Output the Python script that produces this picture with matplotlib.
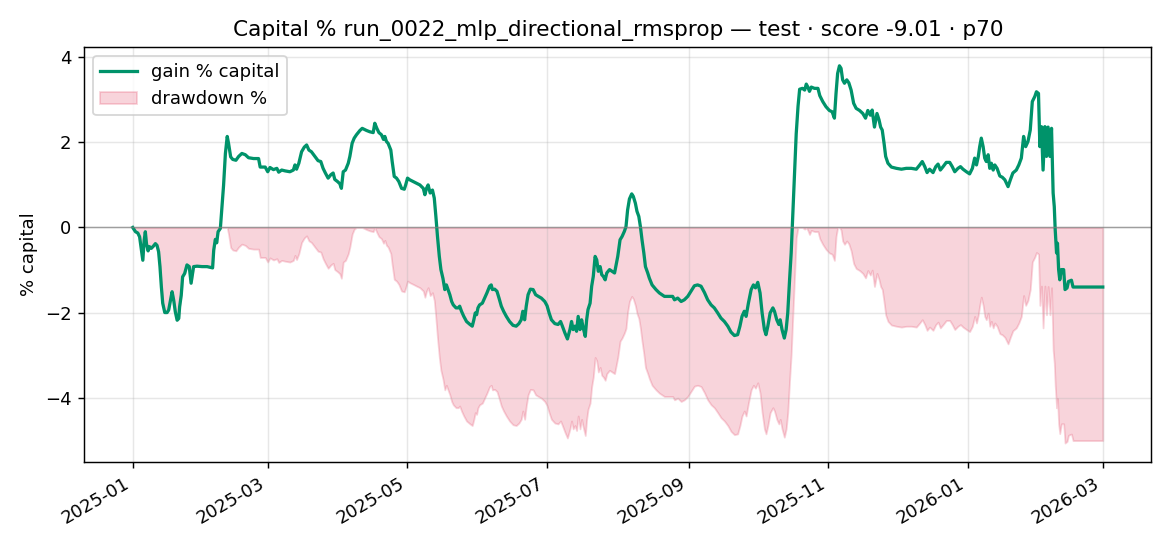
import numpy as np
import pandas as pd
import matplotlib
matplotlib.use('Agg')
import matplotlib.pyplot as plt
import matplotlib.dates as mdates

# days since 2025-01-01 and gain in % of capital
day_offset = [
    0, 1.2, 2.2, 3.0, 3.8, 4.4, 5.0, 5.5, 6.0, 6.7, 7.3, 8.1, 9.0, 9.9, 10.6, 11.3, 11.9, 12.5,
    13.1, 14.0, 15.0, 15.7, 16.4, 17.2, 17.9, 18.6, 19.4, 20.1, 20.5, 21.2, 21.8, 22.7, 23.7,
    24.7, 25.5, 26.6, 28.1, 30.3, 32.5, 34.9, 35.4, 36.1, 36.7, 37.3, 38.3, 39.0, 39.7, 40.5,
    41.3, 41.9, 42.8, 43.7, 45.1, 46.3, 47.7, 49.2, 50.6, 52.8, 55.0, 55.7, 57.9, 59.0, 60.0,
    61.5, 63.0, 63.8, 65.1, 66.6, 68.7,
    70.2, 70.9, 71.6, 72.6, 73.8, 75.0, 76.0, 77.0, 78.1, 79.6, 81.0, 82.2, 83.2, 84.2, 85.4,
    86.6, 87.6, 88.3, 89.5, 90.5, 91.2, 92.0, 93.0, 94.2, 94.9, 95.9, 96.8, 97.8, 99.3, 100.3,
    102.2, 103.6, 105.1, 105.8, 106.7, 107.6, 108.7, 109.6, 110.2, 110.9, 111.6, 112.8, 113.4,
    114.3, 115.3, 116.3, 117.5, 118.7, 119.3, 120.1, 121.1, 122.6, 124.0, 125.5, 127.0, 127.7,
    128.4, 129.1, 130.0, 131.0, 131.8, 132.5, 133.2, 134.0, 134.7, 135.6, 136.4, 137.1, 137.8,
    138.6, 139.4, 140.1, 141.3, 142.3, 142.9, 143.7, 144.7, 145.9, 147.4, 148.4, 149.1, 149.7,
    150.3, 150.9, 151.6, 152.8, 153.8, 154.8, 156.0, 156.7, 157.2, 158.2, 159.2, 160.1, 161.1,
    162.1, 163.3, 164.7, 166.2, 167.6, 168.8, 169.8, 170.5, 171.3, 172.0, 172.8, 173.8, 175.0,
    176.1, 177.3, 178.6, 180.1, 181.1, 182.0, 183.0, 184.5, 185.9, 187.0, 187.8, 188.9, 190.0,
    191.1, 191.8, 192.5, 193.3, 194.0, 194.7, 195.5, 196.2, 196.9, 197.8, 198.4, 199.0, 199.9,
    200.6, 201.3, 202.1, 202.8, 203.5, 204.3, 205.0, 205.7, 206.5, 207.2, 208.4, 210.6, 212.0,
    213.0, 213.9, 214.9, 215.6, 216.3, 217.1, 218.1, 218.8, 219.7, 220.4, 221.2, 221.9, 222.6,
    223.4, 224.1, 225.1, 225.8, 227.0, 228.7, 230.2, 232.4, 234.6, 236.0, 236.8, 238.2, 239.7,
    241.1, 242.6, 244.0, 245.5, 246.9, 248.4, 249.9, 251.3, 252.8, 254.2, 255.7, 257.1, 258.6,
    260.1, 261.5, 263.0, 264.4, 265.4, 266.3, 267.3, 268.1, 269.1, 270.3, 271.3, 272.2, 273.2,
    274.2, 275.1, 276.1, 276.8, 277.6, 278.6, 279.8, 280.5, 281.5, 282.4, 283.0, 283.8, 284.8,
    285.6, 286.3, 287.1, 287.8, 288.5, 289.3, 290.0, 290.8, 291.5, 292.7, 293.7, 294.4, 295.1,
    295.8, 296.6, 298.0, 299.5, 300.3, 301.6, 303.0, 304.5, 305.7, 306.7, 307.4, 308.1, 308.9,
    309.6, 310.3, 311.1, 312.1, 313.0, 314.0, 315.1, 316.2, 317.7, 319.1, 320.3, 321.3, 322.4,
    323.2, 324.2, 325.3, 326.2, 326.9, 327.6, 328.4, 329.1, 330.1, 331.6, 333.8, 336.0, 338.1,
    340.3, 342.5, 344.0, 345.1, 346.2, 347.2, 348.3, 349.8, 351.0, 352.0, 353.0, 354.2, 355.6,
    357.1, 358.2, 359.3, 360.7, 361.8, 362.9, 364.4, 365.8, 367.0, 368.0, 368.8, 369.6, 370.2,
    370.9, 371.7, 372.4, 373.1, 373.9, 374.6, 375.3, 376.1, 376.8, 377.8, 379.0, 380.1, 381.2,
    382.6, 383.6, 384.7, 386.2, 387.3, 388.4, 389.4, 390.3, 391.3, 392.3, 393.2, 394.3, 395.0,
    395.9, 396.5, 397.2, 397.9, 398.7, 399.4, 400.1, 400.9, 401.6, 402.3, 402.8, 403.2, 403.8,
    404.2, 404.7, 405.2, 405.9, 406.9, 407.5, 408.4, 409.0, 410.3, 411.0, 424.0,
]
gain_pct = [
    0.0, -0.10, -0.13, -0.22, -0.53, -0.77, -0.30, -0.10, -0.38, -0.55, -0.45, -0.49, -0.44,
    -0.38, -0.42, -0.57, -0.92, -1.39, -1.78, -2.00, -2.00, -1.94, -1.74, -1.51, -1.71, -1.98,
    -2.18, -2.14, -1.86, -1.59, -1.16, -1.08, -0.88, -0.92, -1.31, -0.92, -0.91, -0.92, -0.92,
    -0.95, -0.53, -0.28, -0.36, -0.10, -0.02, 0.49, 0.99, 1.74, 2.14, 1.97, 1.66, 1.60, 1.58,
    1.67, 1.74, 1.71, 1.64, 1.62, 1.62, 1.42, 1.42, 1.31, 1.41, 1.36, 1.39, 1.30, 1.35, 1.33,
    1.31,
    1.35, 1.47, 1.37, 1.51, 1.78, 1.89, 1.94, 1.82, 1.78, 1.67, 1.57, 1.55, 1.39, 1.28, 1.16,
    1.24, 1.28, 1.13, 1.08, 1.03, 0.92, 1.31, 1.35, 1.51, 1.67, 1.98, 2.10, 2.18, 2.28, 2.33,
    2.28, 2.25, 2.23, 2.45, 2.33, 2.23, 2.18, 2.07, 2.14, 2.02, 1.98, 1.82, 1.55,
    1.20, 1.16, 1.08, 0.92, 0.90, 1.00, 1.16, 1.12, 1.08, 1.04, 1.00, 0.92, 0.77,
    0.92, 1.00, 0.81, 0.88, 0.69, 0.26, -0.21, -0.68, -0.99, -1.20, -1.46, -1.35, -1.46,
    -1.58, -1.74, -1.82, -1.89, -1.89, -1.85, -1.97, -2.09, -2.21, -2.28, -2.32, -2.17, -2.01,
    -2.05, -1.89, -1.82, -1.78, -1.66, -1.54, -1.38, -1.35, -1.46, -1.45, -1.50, -1.66, -1.85,
    -1.97, -2.09, -2.21, -2.30, -2.32, -2.26, -2.17, -1.97, -2.17, -1.85, -1.58, -1.45, -1.46,
    -1.58, -1.62, -1.66, -1.74, -1.84, -2.01, -2.17, -2.26, -2.28, -2.21, -2.32, -2.48, -2.62,
    -2.40, -2.21, -2.40, -2.32, -2.44, -2.09, -2.40, -2.17, -2.36, -2.56, -2.17, -1.93, -1.78,
    -1.38, -1.15, -0.68, -0.76, -1.03, -0.92, -1.11, -1.15, -1.23, -1.07, -0.99, -1.07, -0.68,
    -0.29, -0.21, -0.09, 0.02, 0.41, 0.67, 0.79, 0.73, 0.57, 0.38, 0.26, 0.02, -0.29,
    -0.60, -0.92, -1.07, -1.19, -1.35, -1.46, -1.54, -1.62, -1.62, -1.62, -1.70, -1.66, -1.74,
    -1.70, -1.62, -1.50, -1.37, -1.35, -1.38, -1.53, -1.70, -1.82, -1.89, -2.01, -2.13, -2.21,
    -2.32, -2.46, -2.54, -2.52, -2.32, -2.09, -1.97, -2.09, -1.78, -1.46, -1.35, -1.42, -1.29,
    -1.54, -2.01, -2.40, -2.52, -2.32, -2.01, -1.89, -1.97, -2.17, -2.28, -2.17, -2.40, -2.60,
    -2.40, -2.01, -1.23, -0.60, 0.30, 1.30, 2.20, 2.85, 3.25, 3.27, 3.23, 3.37, 3.30,
    3.20, 3.30, 3.27, 3.27, 3.10, 2.96, 2.84, 2.75, 2.72, 2.57, 3.15, 3.62, 3.80,
    3.74, 3.47, 3.39, 3.47, 3.40, 3.23, 2.92, 2.80, 2.75, 2.68, 2.57, 2.75, 2.64,
    2.76, 2.36, 2.68, 2.53, 2.36, 2.29, 1.98, 1.67, 1.51, 1.42, 1.39, 1.37, 1.39,
    1.39, 1.37, 1.47, 1.55, 1.43, 1.29, 1.37, 1.29, 1.43, 1.49, 1.35, 1.43, 1.53,
    1.53, 1.43, 1.31, 1.39, 1.43, 1.37, 1.31, 1.26, 1.39, 1.63, 1.47, 1.67, 1.90,
    2.10, 1.90, 1.63, 1.55, 1.71, 1.39, 1.51, 1.35, 1.47, 1.39, 1.21, 1.18, 1.12,
    0.96, 1.12, 1.28, 1.35, 1.47, 1.63, 2.14, 1.90, 2.02, 2.29, 2.96, 3.08, 3.19,
    3.15, 1.90, 2.37, 1.35, 2.37, 1.67, 2.36, 1.67, 2.33, 0.81, 0.49, -0.05, -0.60,
    -0.37, -0.99, -1.23, -0.99, -0.99, -1.46, -1.42, -1.27, -1.24, -1.40, -1.40,
]

run_name = 'run_0022_mlp_directional_rmsprop'
split = 'test'
score = -9.01
pct_tag = 'p70'

dates = pd.Timestamp('2025-01-01') + pd.to_timedelta(day_offset, unit='D')
gain = np.array(gain_pct)
capital = 1 + gain / 100.0
peak = np.maximum.accumulate(np.maximum(capital, 1.0))
drawdown = (capital / peak - 1) * 100.0

fig, ax = plt.subplots(figsize=(9, 4.2), dpi=130)

ax.plot(dates, gain, color='#00936a', lw=1.8, label='gain % capital')
ax.fill_between(dates, drawdown, 0, color='crimson', alpha=0.18, label='drawdown %')
ax.axhline(0, color='gray', lw=0.8, alpha=0.7)

ax.set_title(f'Capital % {run_name} \u2014 {split} \u00b7 score {score:.2f} \u00b7 {pct_tag}')
ax.set_ylabel('% capital')
ax.grid(True, alpha=0.3)
ax.legend(loc='upper left')

ax.xaxis.set_major_locator(mdates.MonthLocator(bymonth=[1, 3, 5, 7, 9, 11]))
ax.xaxis.set_major_formatter(mdates.DateFormatter('%Y-%m'))
fig.autofmt_xdate()
fig.subplots_adjust(left=0.072, right=0.984, top=0.914, bottom=0.154)

fig.savefig('out.png', dpi=130)
